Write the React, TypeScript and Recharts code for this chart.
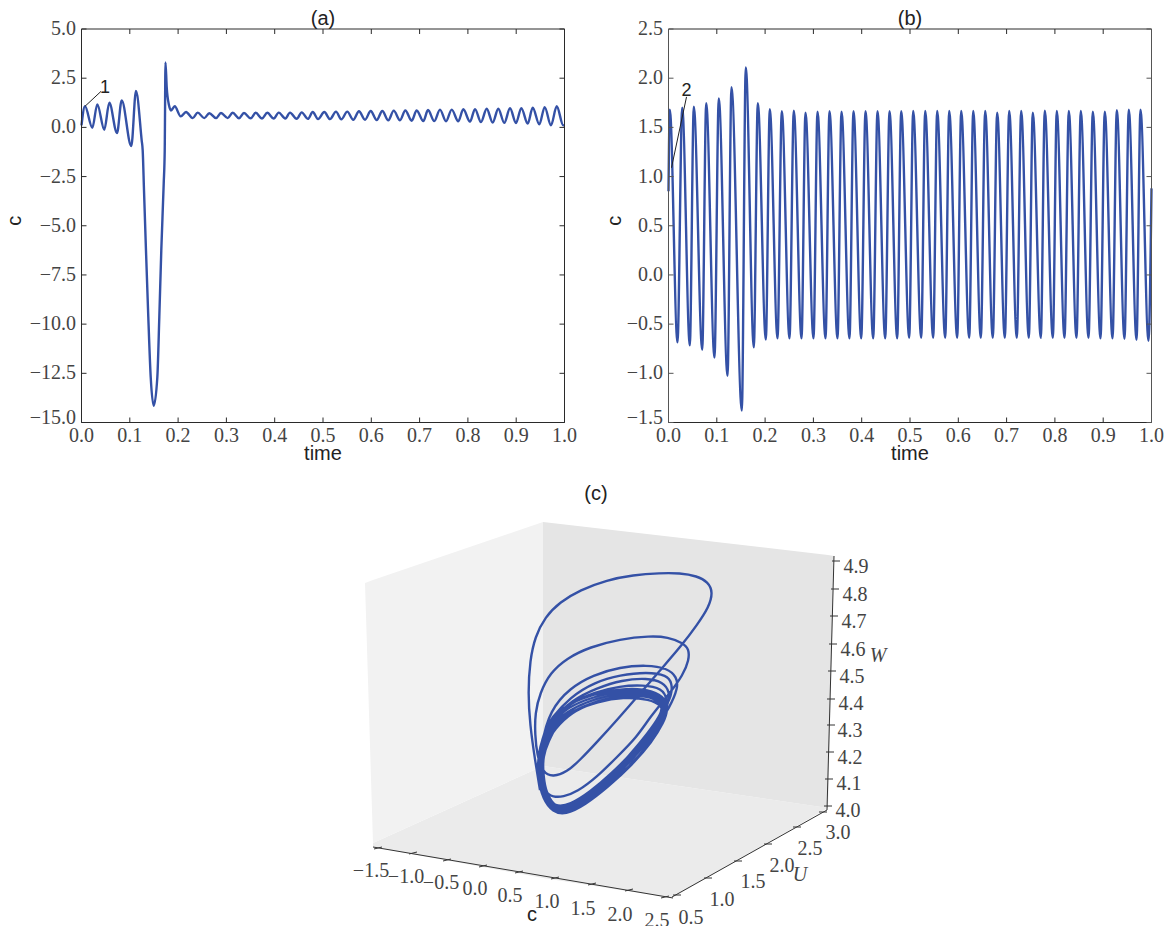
import React from 'react';
import { ComposedChart, LineChart, Line, Area, Scatter, XAxis, YAxis, ReferenceLine, ReferenceDot } from 'recharts';

const timeTicks = [0, 0.1, 0.2, 0.3, 0.4, 0.5, 0.6, 0.7, 0.8, 0.9, 1];
const ticksA = [-15, -12.5, -10, -7.5, -5, -2.5, 0, 2.5, 5];
const ticksB = [-1.5, -1, -0.5, 0, 0.5, 1, 1.5, 2, 2.5];

const timeA = [
  0, 0.0072, 0.0224, 0.0327, 0.0472, 0.0576, 0.0735, 0.0832, 0.1031, 0.1128,
  0.1246, 0.1267, 0.1294, 0.1335, 0.1383, 0.1433, 0.1495, 0.157, 0.1611, 0.1652,
  0.1702, 0.1723, 0.1739, 0.1764, 0.1812, 0.1853, 0.193, 0.2054, 0.2164, 0.2302,
  0.2406, 0.2542, 0.2646, 0.2785, 0.2888, 0.3027, 0.313, 0.3261, 0.3364, 0.3503,
  0.3607, 0.3737, 0.3847, 0.3979, 0.4083, 0.4219, 0.4317, 0.4455, 0.4559, 0.4689,
  0.4787, 0.4897, 0.5027, 0.5145, 0.5269, 0.5379, 0.5503, 0.5627, 0.5745, 0.587,
  0.5988, 0.6112, 0.6228, 0.6352, 0.6464, 0.6594, 0.6704, 0.6836, 0.694, 0.7077,
  0.7174, 0.7304, 0.7422, 0.7547, 0.7665, 0.7801, 0.7905, 0.8043, 0.8147, 0.8271,
  0.8389, 0.8513, 0.8629, 0.8753, 0.8872, 0.8996, 0.9106, 0.9238, 0.9342, 0.9478,
  0.959, 0.972, 0.9839, 0.9975, 1,
];
const valueA = [
  0.1, 1.07, -0.02, 1.17, -0.12, 1.25, -0.29, 1.37, -0.95, 1.85,
  -0.66, -1.17, -3.2, -6.25, -9.64, -12.7, -14.15, -12.7, -9.64, -6.25,
  -2.86, -1.17, 3.3, 2.05, 1.12, 0.86, 1.07, 0.56, 0.78, 0.47,
  0.75, 0.47, 0.72, 0.47, 0.73, 0.47, 0.74, 0.46, 0.73, 0.46,
  0.74, 0.45, 0.74, 0.45, 0.75, 0.45, 0.75, 0.44, 0.76, 0.43,
  0.78, 0.42, 0.78, 0.42, 0.8, 0.41, 0.8, 0.39, 0.82, 0.39,
  0.83, 0.37, 0.83, 0.36, 0.85, 0.36, 0.86, 0.34, 0.86, 0.32,
  0.88, 0.32, 0.9, 0.31, 0.9, 0.31, 0.92, 0.29, 0.93, 0.27,
  0.95, 0.25, 0.95, 0.23, 0.97, 0.22, 0.98, 0.19, 1, 0.15,
  1.03, 0.1, 1.07, 0.1, 0.12,
];

const timeB = [
  0, 0.0027, 0.0186, 0.0284, 0.0441, 0.0524, 0.0698, 0.0781, 0.0952, 0.1041,
  0.1222, 0.1304, 0.1518, 0.16, 0.1766, 0.1849, 0.2015, 0.2097, 0.2257, 0.2346,
  0.2505, 0.2594, 0.2754, 0.2836, 0.3002, 0.3085, 0.3251, 0.3333, 0.3499, 0.3582,
  0.3747, 0.383, 0.399, 0.4079, 0.4238, 0.4327, 0.4487, 0.4576, 0.4735, 0.4818,
  0.4983, 0.5066, 0.5232, 0.5315, 0.548, 0.5563, 0.5729, 0.5812, 0.5977, 0.606,
  0.6226, 0.6309, 0.6466, 0.6557, 0.6714, 0.6805, 0.6963, 0.7054, 0.7211, 0.7302,
  0.746, 0.7542, 0.7708, 0.7791, 0.7957, 0.8039, 0.8199, 0.8288, 0.8447, 0.8536,
  0.8696, 0.8785, 0.8944, 0.9033, 0.9193, 0.9282, 0.9441, 0.953, 0.969, 0.9772,
  0.9938, 1,
];
const valueB = [
  0.85, 1.68, -0.685, 1.7, -0.716, 1.71, -0.76, 1.745, -0.84, 1.795,
  -1.025, 1.908, -1.378, 2.11, -0.736, 1.745, -0.658, 1.684, -0.645, 1.665,
  -0.645, 1.67, -0.645, 1.65, -0.645, 1.66, -0.645, 1.665, -0.645, 1.66,
  -0.645, 1.665, -0.645, 1.665, -0.645, 1.665, -0.645, 1.665, -0.645, 1.665,
  -0.64, 1.667, -0.64, 1.667, -0.64, 1.667, -0.64, 1.667, -0.64, 1.667,
  -0.64, 1.667, -0.64, 1.667, -0.64, 1.65, -0.64, 1.667, -0.64, 1.667,
  -0.64, 1.65, -0.64, 1.67, -0.64, 1.667, -0.64, 1.667, -0.64, 1.667,
  -0.64, 1.66, -0.645, 1.66, -0.645, 1.675, -0.65, 1.68, -0.66, 1.68,
  -0.67, 0.88,
];

// panel (c): trajectory as it lands on the projection plane of the 3D view
const orbitX = [
  540, 535, 530, 528, 530, 535, 545, 560, 580, 607, 633, 660, 680, 697, 708, 713, 709, 697, 682, 663, 643, 617, 597, 580, 567, 553, 543, 537, 535,
  535, 540, 550, 567, 590, 620, 650, 668, 683, 689, 689, 683, 670, 650, 637, 617, 597, 577, 563, 553, 545, 540, 541,
  550, 570, 593, 620, 647, 667, 677, 678, 670, 655, 633, 610, 590, 570, 555, 545, 540, 541, 548,
  550, 570, 595, 620, 647, 667, 672, 672, 663, 650, 630, 608, 588, 568, 553, 544, 539, 541,
  552, 572, 597, 622, 647, 663, 670, 668, 660, 645, 625, 603, 582, 565, 552, 542, 537, 540,
  550, 570, 595, 620, 643, 662, 668, 665, 652, 635, 612, 590, 570, 556, 545, 538, 540,
  548, 562, 582, 607, 633, 653, 665, 668, 664, 652, 632, 608, 585, 565, 553, 543, 537, 539,
  550, 564, 584, 608, 634, 653, 664, 667, 662, 649, 630, 606, 583, 564, 553, 544, 539, 541,
  551, 566, 586, 610, 634, 652, 663, 665, 660, 647, 628, 605, 582, 564, 553, 545, 540, 542,
  552, 567, 588, 612, 634, 651, 662, 664, 658, 644, 626, 603, 581, 564, 553, 545, 541, 543,
  555, 572, 592, 618, 642, 656, 663, 660, 648, 629, 607, 586, 572, 562, 553, 545, 542, 544,
  558, 577, 597, 623, 650, 662, 663, 653, 633, 610, 590, 577, 563, 553, 545, 543, 543, 548, 558,
];
const orbitY = [
  790, 760, 725, 693, 660, 637, 617, 602, 590, 580, 575, 573, 573, 576, 582, 592, 607, 625, 645, 667, 690, 720, 742, 760, 772, 777, 773, 755, 735,
  713, 693, 673, 658, 647, 639, 636, 637, 643, 649, 660, 675, 693, 717, 737, 757, 777, 792, 797, 797, 793, 775, 745,
  710, 688, 675, 667, 665, 668, 677, 688, 707, 730, 752, 775, 792, 805, 807, 797, 775, 750, 725,
  720, 697, 682, 675, 672, 675, 683, 695, 712, 733, 757, 778, 796, 809, 808, 795, 772, 745,
  720, 700, 688, 680, 678, 682, 692, 705, 722, 742, 764, 784, 802, 812, 810, 795, 770, 745,
  722, 703, 692, 686, 685, 688, 700, 715, 735, 757, 780, 798, 812, 811, 798, 772, 745,
  722, 708, 698, 691, 688, 691, 698, 710, 722, 742, 765, 787, 805, 815, 812, 800, 775, 745,
  724, 710, 700, 693, 690, 693, 700, 710, 723, 744, 766, 788, 805, 814, 811, 798, 773, 745,
  726, 712, 702, 695, 692, 695, 702, 711, 724, 743, 764, 785, 803, 812, 809, 796, 772, 746,
  728, 714, 704, 697, 694, 697, 704, 712, 725, 742, 762, 783, 800, 810, 807, 794, 771, 748,
  728, 712, 703, 697, 695, 699, 706, 716, 733, 756, 779, 797, 806, 809, 806, 792, 771, 745,
  723, 709, 702, 697, 699, 706, 712, 730, 752, 775, 792, 803, 808, 805, 790, 770, 757, 742, 723,
];

const cTickLabels = ['\u22121.5', '\u22121.0', '\u22120.5', '0.0', '0.5', '1.0', '1.5', '2.0', '2.5'];
const cTickX = [378, 413, 447, 483, 519, 555, 592, 629, 665];
const cTickY = [848, 853, 860, 866, 872, 878, 884, 890, 897];
const cLabelX = [371, 406, 441, 475, 510, 547, 583, 620, 657];
const cLabelY = [871, 877, 883, 889, 896, 902, 909, 915, 921];

const uTickLabels = ['0.5', '1.0', '1.5', '2.0', '2.5', '3.0'];
const uTickX = [677, 708, 738, 768, 797, 823];
const uTickY = [895, 878, 861, 844, 827, 812];
const uLabelX = [691, 722, 753, 782, 810, 838];
const uLabelY = [918, 900, 882, 866, 849, 833];

const wTickLabels = ['4.0', '4.1', '4.2', '4.3', '4.4', '4.5', '4.6', '4.7', '4.8', '4.9'];
const wTickX = [828, 829, 830, 831, 831, 832, 833, 834, 835, 836];
const wTickY = [806, 779, 752, 725, 699, 671, 644, 616, 589, 561];
const wLabelX = [848, 849, 850, 850, 851, 852, 853, 854, 855, 856];
const wLabelY = [811, 784, 758, 731, 704, 677, 650, 622, 595, 567];

const LINE = '#3451a6';
const INK = '#2a2a2a';
const SERIF = '"Liberation Serif", serif';
const SANS = '"Liberation Sans", sans-serif';

const rowsA = timeA.map((t, i) => ({ t, c: valueA[i] }));
const rowsB = timeB.map((t, i) => ({ t, c: valueB[i] }));
const orbitRows = orbitX.map((x, i) => ({ x, y: orbitY[i] }));

const leftPane = [{ x: 365, r: [583, 583] }, { x: 373, r: [580, 843] }, { x: 543, r: [522, 766] }];
const rightPane = [{ x: 543, r: [522, 766] }, { x: 828, r: [555, 808] }, { x: 834, r: [556, 556] }];
const floorPane = [{ x: 373, r: [843, 847] }, { x: 543, r: [766, 878] }, { x: 672, r: [785, 898] }, { x: 828, r: [808, 808] }];

const fmt = (v: number) => v.toFixed(1).replace('-', '\u2212');

// lowest label is nudged up, it would run into the time axis otherwise
const YTick = ({ x, y, payload, bottom }: any) => (
  <text x={x} y={payload.value === bottom ? y - 5 : y} dy={6} textAnchor="end" fontFamily={SERIF} fontSize={20} fill="#444">
    {fmt(payload.value)}
  </text>
);

const TimePanel = ({ left, rows, domain, ticks, title, note, leader, notePos, spine, labelOffset }: any) => (
  <div style={{ position: 'absolute', left, top: 0 }}>
    <LineChart width={584} height={480} data={rows} margin={{ top: 28, right: 18.5, bottom: 17.5, left: 11.5 }}>
      <XAxis
        dataKey="t" type="number" domain={[0, 1]} ticks={timeTicks} height={40} tickSize={-5} tickMargin={10}
        tickFormatter={fmt} tick={{ fontFamily: SERIF, fontSize: 20, fill: '#444' }} stroke={INK} interval={0}
        label={{ value: 'time', position: 'insideBottom', offset: 3, fontFamily: SANS, fontSize: 20, fill: '#222' }}
      />
      {/* height and width of 1: an axis of size 0 is not drawn at all */}
      <XAxis
        xAxisId="top" dataKey="t" orientation="top" type="number" domain={[0, 1]} ticks={timeTicks} height={1} tickSize={-5}
        tickFormatter={() => ''} stroke={INK} interval={0}
        label={{ value: title, position: 'top', offset: 3, fontFamily: SANS, fontSize: 20, fill: '#222' }}
      />
      <YAxis
        type="number" domain={domain} ticks={ticks} width={70} tickSize={-5} tickMargin={10.5} interval={0}
        tick={<YTick bottom={domain[0]} />} stroke={spine}
        label={{ value: 'c', angle: -90, position: 'insideLeft', offset: labelOffset, fontFamily: SANS, fontSize: 20, fill: '#222' }}
      />
      <YAxis yAxisId="right" orientation="right" type="number" domain={domain} ticks={ticks} width={1} tickSize={-5} tickFormatter={() => ''} stroke={spine} interval={0} />
      {/* invisible series so the mirrored top and right axes get drawn */}
      <Line xAxisId="top" yAxisId="right" dataKey="c" type="linear" stroke="none" dot={false} activeDot={false} isAnimationActive={false} />
      <Line dataKey="c" type="monotone" stroke={LINE} strokeWidth={2.4} dot={false} isAnimationActive={false} />
      <ReferenceLine segment={leader} stroke="#222" strokeWidth={1} />
      <ReferenceDot x={notePos[0]} y={notePos[1]} r={0} label={{ value: note, position: 'center', fontFamily: SANS, fontSize: 18, fill: '#222' }} />
    </LineChart>
  </div>
);

const PlaneText = ({ cx, cy, text, italic }: any) => (
  <text x={cx} y={cy} dy={6} textAnchor="middle" fontFamily={SERIF} fontSize={20} fontStyle={italic ? 'italic' : 'normal'} fill="#444">
    {text}
  </text>
);

const labelRows = (xs: number[], ys: number[], names: string[]) => xs.map((x, i) => ({ x, y: ys[i], text: names[i] }));
const planeLabels = [
  ...labelRows(cLabelX, cLabelY, cTickLabels),
  ...labelRows(uLabelX, uLabelY, uTickLabels),
  ...labelRows(wLabelX, wLabelY, wTickLabels),
];

const tickSegment = (x: number, y: number, dx: number, dy: number) => [{ x: x - dx, y: y - dy }, { x: x + dx, y: y + dy }];

const OrbitPanel = () => (
  <div style={{ position: 'absolute', left: 340, top: 480 }}>
    <ComposedChart width={560} height={446} margin={{ top: 0, right: 0, bottom: 0, left: 0 }}>
      <XAxis dataKey="x" type="number" domain={[340, 900]} hide allowDataOverflow />
      <YAxis type="number" domain={[480, 926]} reversed hide allowDataOverflow />
      <Area data={floorPane} dataKey="r" type="linear" fill="#ebebeb" fillOpacity={1} stroke="none" dot={false} activeDot={false} isAnimationActive={false} />
      <Area data={leftPane} dataKey="r" type="linear" fill="#f2f2f2" fillOpacity={1} stroke="none" dot={false} activeDot={false} isAnimationActive={false} />
      <Area data={rightPane} dataKey="r" type="linear" fill="#e5e5e5" fillOpacity={1} stroke="none" dot={false} activeDot={false} isAnimationActive={false} />
      <Line data={orbitRows} dataKey="y" type="basis" stroke={LINE} strokeWidth={2.4} dot={false} activeDot={false} isAnimationActive={false} />
      <ReferenceLine segment={[{ x: 373, y: 847 }, { x: 673, y: 898 }]} stroke="#333" strokeWidth={1} />
      <ReferenceLine segment={[{ x: 672, y: 897 }, { x: 827, y: 810 }]} stroke="#333" strokeWidth={1} />
      <ReferenceLine segment={[{ x: 827, y: 810 }, { x: 834, y: 556 }]} stroke="#333" strokeWidth={1} />
      {cTickX.map((x, i) => <ReferenceLine key={`c${i}`} segment={tickSegment(x, cTickY[i], 4, -1)} stroke="#333" />)}
      {uTickX.map((x, i) => <ReferenceLine key={`u${i}`} segment={tickSegment(x, uTickY[i], 4, 0)} stroke="#333" />)}
      {wTickX.map((x, i) => <ReferenceLine key={`w${i}`} segment={tickSegment(x, wTickY[i], 4, 0)} stroke="#333" />)}
      <Scatter data={planeLabels} dataKey="y" shape={(p: any) => <PlaneText cx={p.cx} cy={p.cy} text={p.payload.text} />} isAnimationActive={false} />
      <Scatter data={[{ x: 800, y: 875, text: 'U' }, { x: 878, y: 656, text: 'W' }]} dataKey="y" shape={(p: any) => <PlaneText cx={p.cx} cy={p.cy} text={p.payload.text} italic />} isAnimationActive={false} />
      <ReferenceDot x={532} y={914} r={0} label={{ value: 'c', position: 'center', fontFamily: SANS, fontSize: 20, fill: '#222' }} />
      <ReferenceDot x={596} y={493} r={0} label={{ value: '(c)', position: 'center', fontFamily: SANS, fontSize: 20, fill: '#222' }} />
    </ComposedChart>
  </div>
);

export default function App() {
  return (
    <div style={{ position: 'absolute', left: 0, top: 0, width: 1168, height: 926, overflow: 'hidden', background: '#fff' }}>
      <TimePanel
        left={0} rows={rowsA} domain={[-15, 5]} ticks={ticksA} title="(a)" note="1" notePos={[0.0487, 2.08]} spine={INK} labelOffset={2}
        leader={[{ x: 0.0072, y: 1.07 }, { x: 0.0404, y: 1.83 }]}
      />
      <TimePanel
        left={586.5} rows={rowsB} domain={[-1.5, 2.5]} ticks={ticksB} title="(b)" note="2" notePos={[0.0373, 1.88]} spine="#555" labelOffset={15}
        leader={[{ x: 0.0062, y: 1.09 }, { x: 0.0373, y: 1.81 }]}
      />
      <OrbitPanel />
    </div>
  );
}
